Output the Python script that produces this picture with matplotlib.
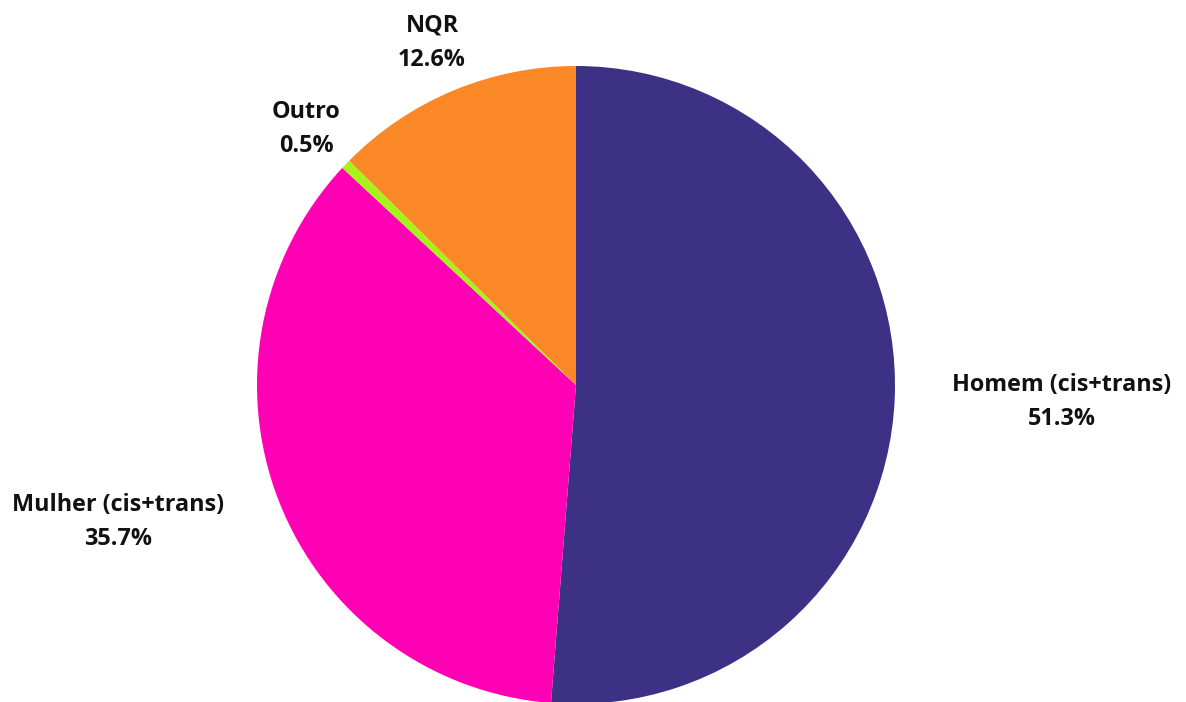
import matplotlib
matplotlib.use("Agg")
import matplotlib.pyplot as plt

categories = ["Homem (cis+trans)", "Mulher (cis+trans)", "Outro", "NQR"]
values = [51.3, 35.7, 0.5, 12.6]
colors = ["#3d3185", "#ff00b4", "#a6f21a", "#fb8826"]
label_pos = [(1062, 300), (118, 180), (306, 573), (432, 659)]

plt.rcParams['font.family'] = ['Open Sans', 'DejaVu Sans']

fig = plt.figure(figsize=(11.86, 7.02), dpi=100)
ax = fig.add_axes([0, 0, 1, 1])
ax.pie(values, colors=colors, startangle=90, counterclock=False,
       center=(576, 317), radius=319, wedgeprops=dict(linewidth=0))
ax.set_xlim(0, 1186)
ax.set_ylim(0, 702)
ax.set_aspect('equal')
ax.axis('off')

for cat, val, (x, y) in zip(categories, values, label_pos):
    ax.text(x, y, f"{cat}\n{val:.1f}%", ha='center', va='center',
            fontsize=16.8, fontweight='bold', color='#111111', linespacing=1.6)

fig.savefig("out.png", dpi=100, facecolor='white')
